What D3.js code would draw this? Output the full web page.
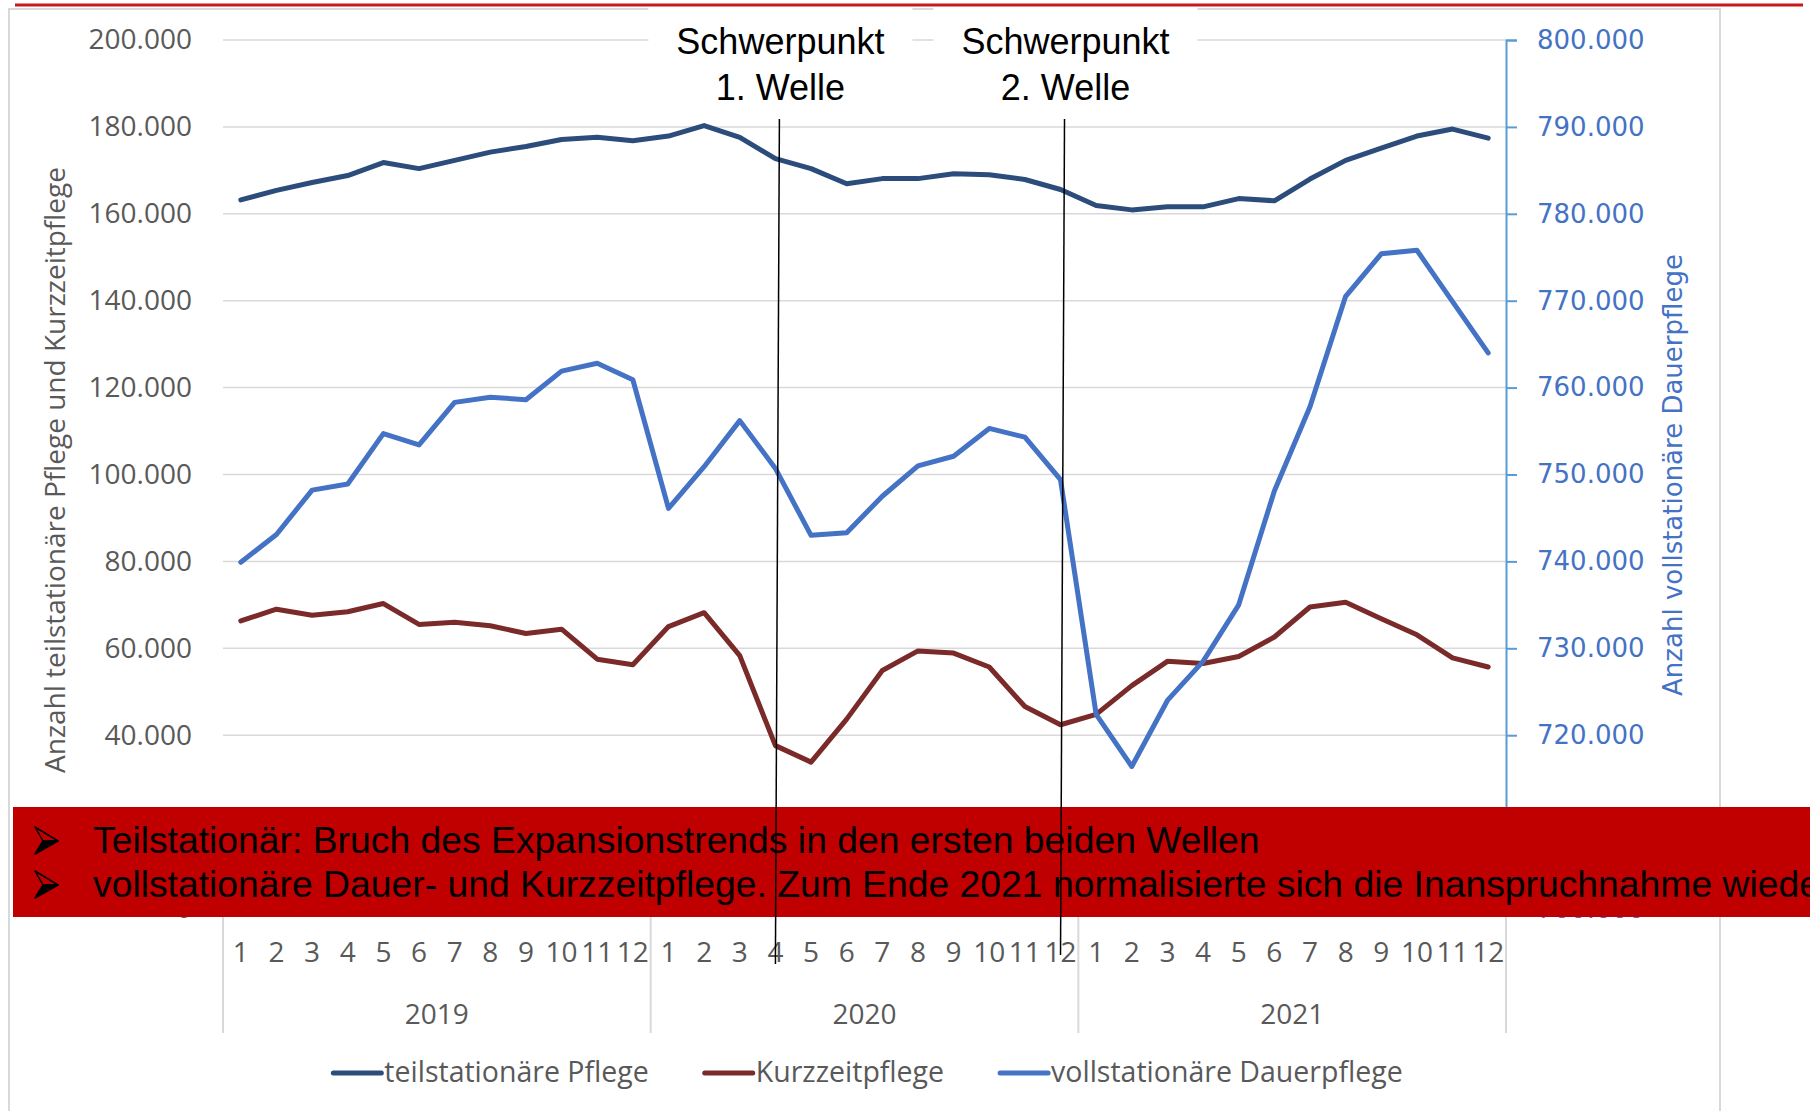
<!DOCTYPE html>
<meta charset="utf-8">
<style>
    body { margin: 0; background: #fff; }
    svg text { font-family: "Open Sans", sans-serif; }
</style>
<div id="my_dataviz"></div>
<script src="https://d3js.org/d3.v7.min.js"></script>
<script>

    // data
    var years = ["2019", "2020", "2021"];
    var months = ["1", "2", "3", "4", "5", "6", "7", "8", "9", "10", "11", "12"];

    var teilstationaer = [163200, 165400, 167200, 168800, 171800, 170400, 172300, 174200, 175500, 177100, 177600, 176800,
        177900, 180300, 177600, 172700, 170400, 166900, 168100, 168100, 169200, 169000, 167900, 165600,
        161900, 160900, 161600, 161600, 163500, 163000, 168000, 172300, 175100, 177900, 179500, 177400];

    var kurzzeit = [66300, 69000, 67600, 68400, 70300, 65500, 66000, 65200, 63400, 64400, 57500, 56200,
        65000, 68200, 58300, 37600, 33800, 43700, 54900, 59400, 58900, 55700, 46600, 42400,
        44800, 51400, 57000, 56500, 58100, 62600, 69500, 70600, 66800, 63100, 57800, 55700];

    var vollstationaer = [739900, 743100, 748200, 748900, 754700, 753400, 758300, 758900, 758600, 761900, 762800, 760900,
        746100, 750900, 756200, 750700, 743000, 743300, 747500, 751000, 752100, 755300, 754300, 749400,
        722400, 716400, 724000, 728500, 735000, 748100, 757800, 770500, 775400, 775800, 769900, 764000];

    var leftTicks = d3.range(0, 200001, 20000);
    var rightTicks = d3.range(700000, 800001, 10000);

    var seriesNames = ["teilstationäre Pflege", "Kurzzeitpflege", "vollstationäre Dauerpflege"];
    var seriesColors = ["#2C4C7C", "#7A2A29", "#4472C4"];

    // annotations: index of the month where the wave line sits
    var waves = [
        { idx: 15, lines: ["Schwerpunkt", "1. Welle"] },
        { idx: 23, lines: ["Schwerpunkt", "2. Welle"] }
    ];
    var bannerLines = [
        "Teilstationär: Bruch des Expansionstrends in den ersten beiden Wellen",
        "vollstationäre Dauer- und Kurzzeitpflege. Zum Ende 2021 normalisierte sich die Inanspruchnahme wieder."
    ];

    var W = 1810, H = 1111;
    var plot = { left: 223, right: 1506, top: 40, bottom: 909 };

    var svg = d3.select("#my_dataviz")
        .append("svg")
        .attr("width", W)
        .attr("height", H);

    var de = d3.formatLocale({ decimal: ",", thousands: ".", grouping: [3], currency: ["", "€"] });
    var fmt = de.format(",.0f");

    // scales
    var idx = d3.range(years.length * months.length);
    var x = d3.scaleBand().domain(idx).range([plot.left, plot.right]);
    var xYear = d3.scaleBand().domain(years).range([plot.left, plot.right]);
    var yL = d3.scaleLinear().domain([0, 200000]).range([plot.bottom, plot.top]);
    var yR = d3.scaleLinear().domain([700000, 800000]).range([plot.bottom, plot.top]);
    var cx = function (i) { return x(i) + x.bandwidth() / 2; };

    // chart area border
    svg.append("rect")
        .attr("x", 9).attr("y", 9)
        .attr("width", 1711).attr("height", 1200)
        .attr("fill", "none")
        .attr("stroke", "#D9D9D9")
        .attr("stroke-width", 2);

    // gridlines
    svg.append("g")
        .selectAll("line")
        .data(leftTicks)
        .enter()
        .append("line")
        .attr("x1", plot.left).attr("x2", plot.right)
        .attr("y1", function (d) { return yL(d); })
        .attr("y2", function (d) { return yL(d); })
        .attr("stroke", "#D9D9D9")
        .attr("stroke-width", 1.5);

    // left axis
    var gL = svg.append("g")
        .attr("transform", "translate(" + plot.left + ",0)")
        .call(d3.axisLeft(yL).tickValues(leftTicks).tickFormat(fmt).tickSize(0).tickPadding(31));
    gL.select(".domain").remove();
    gL.selectAll("text")
        .style("font-family", "'Open Sans'")
        .style("font-size", "28px")
        .attr("fill", "#595959");

    // right axis
    var gR = svg.append("g")
        .attr("transform", "translate(" + plot.right + ",0)")
        .call(d3.axisRight(yR).tickValues(rightTicks).tickFormat(fmt).tickSize(11).tickPadding(20));
    gR.select(".domain").attr("stroke", "#5B9BD5").attr("stroke-width", 2);
    gR.selectAll("line").attr("stroke", "#5B9BD5").attr("stroke-width", 2);
    gR.selectAll("text")
        .style("font-family", "'DejaVu Sans'")
        .style("font-size", "26px")
        .attr("fill", "#4472C4");

    // x axis: months
    var gX = svg.append("g")
        .attr("transform", "translate(0," + plot.bottom + ")")
        .call(d3.axisBottom(x).tickSize(0).tickPadding(33)
            .tickFormat(function (i) { return months[i % 12]; }));
    gX.select(".domain").attr("stroke", "#D9D9D9").attr("stroke-width", 1.5);
    gX.selectAll("text")
        .style("font-family", "'Open Sans'")
        .style("font-size", "28px")
        .attr("fill", "#595959");

    // x axis: years
    var gY = svg.append("g")
        .attr("transform", "translate(0," + plot.bottom + ")")
        .call(d3.axisBottom(xYear).tickSize(0).tickPadding(95));
    gY.select(".domain").remove();
    gY.selectAll("text")
        .style("font-family", "'Open Sans'")
        .style("font-size", "28px")
        .attr("fill", "#595959");

    // year separators
    var seps = years.map(function (y) { return xYear(y); }).concat([plot.right]);
    svg.append("g")
        .selectAll("line")
        .data(seps)
        .enter()
        .append("line")
        .attr("x1", function (d) { return d; })
        .attr("x2", function (d) { return d; })
        .attr("y1", plot.bottom)
        .attr("y2", 1033)
        .attr("stroke", "#D9D9D9")
        .attr("stroke-width", 2);

    // axis titles
    svg.append("text")
        .attr("transform", "translate(65,470) rotate(-90)")
        .style("text-anchor", "middle")
        .style("font-family", "'Open Sans'")
        .style("font-size", "28px")
        .attr("fill", "#595959")
        .text("Anzahl teilstationäre Pflege und Kurzzeitpflege");

    svg.append("text")
        .attr("transform", "translate(1682,475) rotate(-90)")
        .style("text-anchor", "middle")
        .style("font-family", "'DejaVu Sans'")
        .style("font-size", "26px")
        .attr("fill", "#4472C4")
        .text("Anzahl vollstationäre Dauerpflege");

    // lines
    var lineL = d3.line()
        .x(function (d, i) { return cx(i); })
        .y(function (d) { return yL(d); });
    var lineR = d3.line()
        .x(function (d, i) { return cx(i); })
        .y(function (d) { return yR(d); });

    var series = [
        { data: teilstationaer, gen: lineL },
        { data: kurzzeit, gen: lineL },
        { data: vollstationaer, gen: lineR }
    ];
    svg.append("g")
        .selectAll("path")
        .data(series)
        .enter()
        .append("path")
        .attr("d", function (s) { return s.gen(s.data); })
        .attr("fill", "none")
        .attr("stroke", function (s, i) { return seriesColors[i]; })
        .attr("stroke-width", 5)
        .attr("stroke-linejoin", "round")
        .attr("stroke-linecap", "round");

    // annotation boxes with text
    var ann = svg.append("g")
        .selectAll("g")
        .data(waves)
        .enter()
        .append("g")
        .attr("transform", function (d) { return "translate(" + (cx(d.idx) + 5) + ",0)"; });
    ann.append("rect")
        .attr("x", -132).attr("y", 7)
        .attr("width", 264).attr("height", 108)
        .attr("fill", "#fff");
    ann.selectAll("text")
        .data(function (d) { return d.lines; })
        .enter()
        .append("text")
        .attr("y", function (d, i) { return 54 + i * 46; })
        .style("text-anchor", "middle")
        .style("font-family", "'Liberation Sans', Arial")
        .style("font-size", "36px")
        .attr("fill", "#000")
        .text(function (d) { return d; });

    // red rule at the very top
    svg.append("line")
        .attr("x1", 15).attr("x2", 1803)
        .attr("y1", 5).attr("y2", 5)
        .attr("stroke", "#C81818")
        .attr("stroke-width", 3);

    // red banner
    svg.append("rect")
        .attr("x", 13).attr("y", 807)
        .attr("width", W - 13).attr("height", 110)
        .attr("fill", "#C00000");
    var bl = svg.append("g")
        .selectAll("g")
        .data(bannerLines)
        .enter()
        .append("g")
        .attr("transform", function (d, i) { return "translate(0," + (853 + i * 44) + ")"; });
    // arrowhead bullets: outlined upper half, solid lower half
    bl.append("path")
        .attr("d", "M35,-26 L58,-12 L43,-12 Z")
        .attr("fill", "#C00000")
        .attr("stroke", "#000")
        .attr("stroke-width", 1.5)
        .attr("stroke-linejoin", "round");
    bl.append("path")
        .attr("d", "M43,-12 L58,-12 L35,1 Z")
        .attr("fill", "#000")
        .attr("stroke", "#000")
        .attr("stroke-width", 1.5)
        .attr("stroke-linejoin", "round");
    bl.append("text")
        .attr("x", 93)
        .style("font-family", "'Liberation Sans', Arial")
        .style("font-size", "37.3px")
        .attr("fill", "#000")
        .text(function (d) { return d; });

    // wave lines, drawn over everything
    svg.append("g")
        .selectAll("line")
        .data(waves)
        .enter()
        .append("line")
        .attr("x1", function (d) { return cx(d.idx) + 4; })
        .attr("y1", 119)
        .attr("x2", function (d) { return cx(d.idx); })
        .attr("y2", function (d, i) { return i === 0 ? 964 : 955; })
        .attr("stroke", "#000")
        .attr("stroke-width", 1.5);

    // legend, centred under the chart
    var leg = svg.append("g").attr("transform", "translate(0,1073)");
    var items = leg.selectAll("g")
        .data(seriesNames)
        .enter()
        .append("g");
    items.append("line")
        .attr("x1", 0).attr("x2", 48)
        .attr("stroke", function (d, i) { return seriesColors[i]; })
        .attr("stroke-width", 5)
        .attr("stroke-linecap", "round");
    items.append("text")
        .attr("x", 51)
        .attr("y", 9)
        .style("font-family", "'Open Sans'")
        .style("font-size", "28.5px")
        .attr("fill", "#595959")
        .text(function (d) { return d; });
    var widths = [];
    items.each(function () { widths.push(51 + d3.select(this).select("text").node().getComputedTextLength()); });
    var gap = 56;
    var total = d3.sum(widths) + gap * (widths.length - 1);
    var pos = 868 - total / 2;
    items.attr("transform", function (d, i) {
        var p = pos;
        pos += widths[i] + gap;
        return "translate(" + p + ",0)";
    });

</script>
